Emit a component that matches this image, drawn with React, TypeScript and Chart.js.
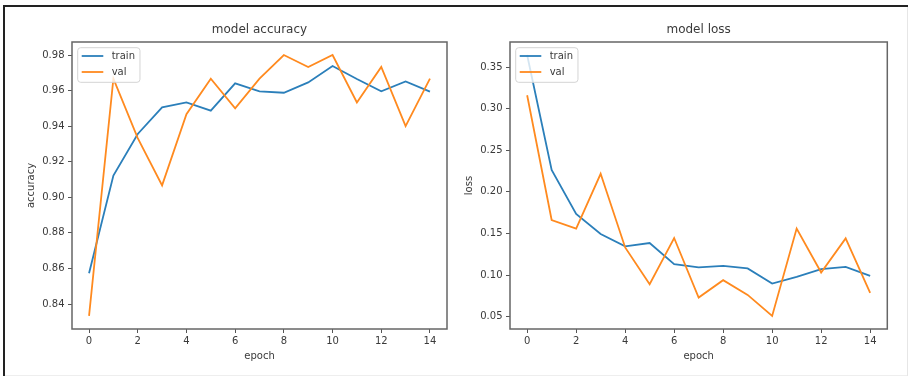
import React, { useEffect, useRef } from "react";
import { Chart, registerables } from "chart.js";

Chart.register(...registerables);

// ---- data ----
const epochs = [0, 1, 2, 3, 4, 5, 6, 7, 8, 9, 10, 11, 12, 13, 14];
const accTrain = [0.8573, 0.9122, 0.9356, 0.9506, 0.9534, 0.9487, 0.9641, 0.9596, 0.9588, 0.9646, 0.9738, 0.9665, 0.9596, 0.9652, 0.9594];
const accVal = [0.8333, 0.9667, 0.9333, 0.9067, 0.9467, 0.9667, 0.95, 0.9667, 0.98, 0.9733, 0.98, 0.9533, 0.9733, 0.94, 0.9667];
const lossTrain = [0.3645, 0.2265, 0.1735, 0.1493, 0.1344, 0.1385, 0.1131, 0.1091, 0.1111, 0.1079, 0.0898, 0.0979, 0.1071, 0.1099, 0.099];
const lossVal = [0.3162, 0.1662, 0.1558, 0.2217, 0.1332, 0.089, 0.1445, 0.0729, 0.0938, 0.0761, 0.0508, 0.1558, 0.1031, 0.1441, 0.0785];
const epochTicks = [0, 2, 4, 6, 8, 10, 12, 14];
const accTicks = [0.84, 0.86, 0.88, 0.9, 0.92, 0.94, 0.96, 0.98];
const lossTicks = [0.05, 0.1, 0.15, 0.2, 0.25, 0.3, 0.35];
const seriesLabels = ["train", "val"];
const seriesColors = ["#2b7fba", "#ff8a1f"];

const FONT = "'DejaVu Sans', sans-serif";
const TEXT = "#3a3a3a";

function limits(vals: number[]) {
  const mn = Math.min(...vals);
  const mx = Math.max(...vals);
  const m = (mx - mn) * 0.05;
  return [mn - m, mx + m];
}

const mplPlugin = {
  id: "mplFrameLegend",
  afterDatasetsDraw(chart: any) {
    const { ctx, chartArea: a } = chart;
    ctx.save();
    ctx.strokeStyle = "#666";
    ctx.lineWidth = 1.5;
    ctx.strokeRect(a.left, a.top, a.right - a.left, a.bottom - a.top);
    // legend (upper left)
    ctx.font = `10px ${FONT}`;
    const ds = chart.data.datasets;
    let maxW = 0;
    ds.forEach((d: any) => (maxW = Math.max(maxW, ctx.measureText(d.label).width)));
    const bx = a.left + 5.7;
    const by = a.top + 5.7;
    const bw = 34 + maxW + 5;
    const bh = 34.6;
    const r = 3;
    ctx.beginPath();
    ctx.moveTo(bx + r, by);
    ctx.lineTo(bx + bw - r, by);
    ctx.quadraticCurveTo(bx + bw, by, bx + bw, by + r);
    ctx.lineTo(bx + bw, by + bh - r);
    ctx.quadraticCurveTo(bx + bw, by + bh, bx + bw - r, by + bh);
    ctx.lineTo(bx + r, by + bh);
    ctx.quadraticCurveTo(bx, by + bh, bx, by + bh - r);
    ctx.lineTo(bx, by + r);
    ctx.quadraticCurveTo(bx, by, bx + r, by);
    ctx.closePath();
    ctx.fillStyle = "rgba(255,255,255,0.8)";
    ctx.fill();
    ctx.strokeStyle = "#d4d4d4";
    ctx.lineWidth = 1;
    ctx.stroke();
    ds.forEach((d: any, i: number) => {
      const y = by + 8.3 + i * 16;
      ctx.strokeStyle = d.borderColor;
      ctx.lineWidth = 1.8;
      ctx.beginPath();
      ctx.moveTo(bx + 4, y);
      ctx.lineTo(bx + 25.6, y);
      ctx.stroke();
      ctx.fillStyle = TEXT;
      ctx.textBaseline = "middle";
      ctx.textAlign = "left";
      ctx.fillText(d.label, bx + 34, y);
    });
    ctx.restore();
  },
};

type PanelProps = {
  title: string;
  yLabel: string;
  train: number[];
  val: number[];
  yTicks: number[];
  left: number;
  yAxisWidth: number;
  yTitlePad: number;
  rightPad: number;
};

function Panel(p: PanelProps) {
  const ref = useRef<HTMLCanvasElement>(null);
  useEffect(() => {
    if (!ref.current) return;
    const [ymin, ymax] = limits([...p.train, ...p.val]);
    const series = [p.train, p.val];
    const chart = new Chart(ref.current, {
      type: "line",
      data: {
        datasets: series.map((s, i) => ({
          label: seriesLabels[i],
          data: epochs.map((e, j) => ({ x: e, y: s[j] })),
          borderColor: seriesColors[i],
          backgroundColor: seriesColors[i],
          borderWidth: 1.8,
          pointRadius: 0,
          tension: 0,
          order: i === 0 ? 1 : 0,
        })),
      },
      options: {
        animation: false,
        responsive: false,
        devicePixelRatio: 1,
        layout: { padding: { left: 0, right: p.rightPad, top: 0, bottom: 0 } },
        plugins: {
          legend: { display: false },
          tooltip: { enabled: false },
          title: {
            display: true,
            text: p.title,
            fullSize: false,
            color: TEXT,
            font: { family: FONT, size: 12, weight: "normal" },
            padding: { top: 22.8, bottom: 4.8 },
          },
        },
        scales: {
          x: {
            type: "linear",
            min: -0.7,
            max: 14.7,
            afterBuildTicks: (s: any) => {
              s.ticks = epochTicks.map((v) => ({ value: v }));
            },
            afterFit: (s: any) => {
              s.height = 47;
            },
            ticks: {
              color: TEXT,
              font: { family: FONT, size: 10 },
              padding: 2,
              maxRotation: 0,
              autoSkip: false,
              callback: (v: any) => String(Math.round(Number(v))),
            },
            grid: { display: true, drawOnChartArea: false, drawTicks: true, tickLength: 4, color: "#555" },
            border: { display: false },
            title: {
              display: true,
              text: "epoch",
              color: TEXT,
              font: { family: FONT, size: 10 },
              padding: { top: 0, bottom: 14 },
            },
          },
          y: {
            type: "linear",
            min: ymin,
            max: ymax,
            afterBuildTicks: (s: any) => {
              s.ticks = p.yTicks.map((v) => ({ value: v }));
            },
            afterFit: (s: any) => {
              s.width = p.yAxisWidth;
            },
            ticks: {
              color: TEXT,
              font: { family: FONT, size: 10 },
              padding: 3.5,
              autoSkip: false,
              callback: (v: any) => Number(v).toFixed(2),
            },
            grid: { display: true, drawOnChartArea: false, drawTicks: true, tickLength: 4, color: "#555" },
            border: { display: false },
            title: {
              display: true,
              text: p.yLabel,
              color: TEXT,
              font: { family: FONT, size: 10 },
              padding: { top: p.yTitlePad, bottom: 0 },
            },
          },
        },
      } as any,
      plugins: [mplPlugin],
    });
    return () => chart.destroy();
  }, []);
  return (
    <canvas
      ref={ref}
      width={454}
      height={376}
      style={{ position: "absolute", left: p.left, top: 0, width: 454, height: 376 }}
    />
  );
}

export default function App() {
  return (
    <div style={{ position: "absolute", left: 0, top: 0, width: 908, height: 376, background: "#fff", overflow: "hidden" }}>
      <Panel title="model accuracy" yLabel="accuracy" train={accTrain} val={accVal} yTicks={accTicks} left={0} yAxisWidth={72} yTitlePad={25.7} rightPad={7} />
      <Panel title="model loss" yLabel="loss" train={lossTrain} val={lossVal} yTicks={lossTicks} left={454} yAxisWidth={56} yTitlePad={9} rightPad={20.7} />
      <div style={{ position: "absolute", left: 3, top: 5, width: 905, height: 2, background: "#222" }} />
      <div style={{ position: "absolute", left: 3, top: 5, width: 2, height: 371, background: "#222" }} />
      <div style={{ position: "absolute", left: 907, top: 7, width: 1, height: 369, background: "#e6e6e6" }} />
      <div style={{ position: "absolute", left: 5, top: 375, width: 902, height: 1, background: "#eeeeee" }} />
    </div>
  );
}
